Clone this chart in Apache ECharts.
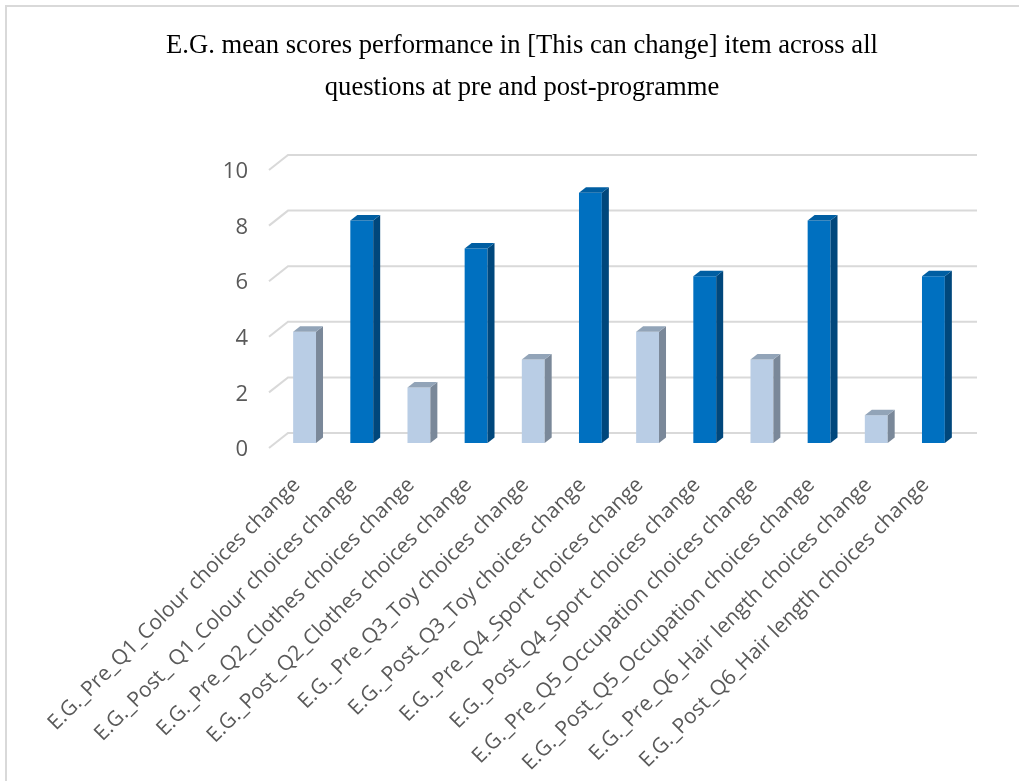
<!DOCTYPE html>
<html>
<head>
<meta charset="utf-8">
<title>E.G. mean scores – This can change</title>
<script src="https://cdn.jsdelivr.net/npm/echarts@6/dist/echarts.min.js"></script>
<style>
  html, body { margin: 0; padding: 0; background: #ffffff; }
  #chart { width: 1019px; height: 781px; }
</style>
</head>
<body>
<div id="chart"></div>
<script>
// Question items, pre and post programme, in display order
const categories = [
  'E.G._Pre_Q1_Colour choices change',
  'E.G._Post_ Q1_Colour choices change',
  'E.G._Pre_Q2_Clothes choices change',
  'E.G._Post_Q2_Clothes choices change',
  'E.G._Pre_Q3_Toy choices change',
  'E.G._Post_Q3_Toy choices change',
  'E.G._Pre_Q4_Sport choices change',
  'E.G._Post_Q4_Sport choices change',
  'E.G._Pre_Q5_Occupation choices change',
  'E.G._Post_Q5_Occupation choices change',
  'E.G._Pre_Q6_Hair length choices change',
  'E.G._Post_Q6_Hair length choices change'
];
// Mean scores per question
const preScores  = [4, 2, 3, 4, 3, 1];
const postScores = [8, 7, 9, 6, 8, 6];
// Value axis ticks
const yTicks = [0, 2, 4, 6, 8, 10];

const titleText = 'E.G. mean scores performance in [This can change] item across all\nquestions at pre and post-programme';

// Face colours for the two phases: front, side, top
const palette = {
  pre:  { front: '#B9CDE5', side: '#7A8899', top: '#92A4B8' },
  post: { front: '#0070C0', side: '#00477C', top: '#005EA2' }
};

// Interleave pre/post into one series: [categoryIndex, value, phase]
const barData = [];
preScores.forEach(function (v, i) {
  barData.push([2 * i, v, 'pre']);
  barData.push([2 * i + 1, postScores[i], 'post']);
});

const DEPTH_DX = 7;
const DEPTH_DY = 5.5;

function renderBar(params, api) {
  const idx = api.value(0);
  const val = api.value(1);
  const phase = barData[params.dataIndex][2];
  const col = palette[phase];
  const band = api.size([1, 0])[0];
  const w = band * 0.40;
  const top = api.coord([idx, val]);
  const bot = api.coord([idx, 0]);
  const x0 = top[0] - w / 2;
  const x1 = x0 + w;
  const yT = top[1];
  const yB = bot[1];
  return {
    type: 'group',
    children: [
      {
        type: 'rect',
        shape: { x: x0, y: yT, width: w, height: yB - yT },
        style: { fill: col.front }
      },
      {
        type: 'polygon',
        shape: { points: [[x1, yT], [x1 + DEPTH_DX, yT - DEPTH_DY], [x1 + DEPTH_DX, yB - DEPTH_DY], [x1, yB]] },
        style: { fill: col.side }
      },
      {
        type: 'polygon',
        shape: { points: [[x0, yT], [x0 + DEPTH_DX, yT - DEPTH_DY], [x1 + DEPTH_DX, yT - DEPTH_DY], [x1, yT]] },
        style: { fill: col.top }
      }
    ]
  };
}

// Gridlines drawn as floor edge + back wall line
function renderGrid(params, api) {
  const v = api.value(0);
  const cs = params.coordSys;
  const y = api.coord([0, v])[1];
  const left = cs.x;
  const right = cs.x + cs.width;
  return {
    type: 'polyline',
    shape: { points: [[left - 7, y + 5], [left + 12, y - 10], [right + 15, y - 10]] },
    style: { stroke: '#D9D9D9', lineWidth: 2, fill: null }
  };
}

const chart = echarts.init(document.getElementById('chart'), null, { renderer: 'canvas' });

chart.setOption({
  backgroundColor: '#ffffff',
  animation: false,
  title: {
    text: titleText,
    left: 517,
    top: 20,
    textAlign: 'center',
    textStyle: {
      fontFamily: 'Liberation Serif',
      fontSize: 26.6,
      fontWeight: 'normal',
      color: '#000000',
      lineHeight: 42
    }
  },
  graphic: [
    {
      type: 'rect',
      shape: { x: 6, y: 6, width: 1100, height: 1000 },
      style: { fill: null, stroke: '#D9D9D9', lineWidth: 2 },
      silent: true
    }
  ],
  grid: {
    left: 276,
    top: 165,
    width: 686,
    height: 278
  },
  xAxis: {
    type: 'category',
    data: categories,
    axisLine: { show: false },
    axisTick: { show: false },
    axisLabel: {
      interval: 0,
      rotate: 45,
      margin: 31,
      padding: [0, 11, 0, 0],
      fontFamily: 'Open Sans',
      fontSize: 21,
      color: '#595959'
    }
  },
  yAxis: {
    type: 'value',
    min: 0,
    max: 10,
    interval: 2,
    axisLine: { show: false },
    axisTick: { show: false },
    splitLine: { show: false },
    axisLabel: {
      margin: 28,
      verticalAlign: 'top',
      lineHeight: 14,
      fontFamily: 'Open Sans',
      fontSize: 22,
      color: '#595959'
    }
  },
  series: [
    {
      type: 'custom',
      z: 1,
      silent: true,
      renderItem: renderGrid,
      data: yTicks.map(function (t) { return [t]; }),
      encode: { y: 0 }
    },
    {
      type: 'custom',
      z: 5,
      renderItem: renderBar,
      data: barData.map(function (d) { return [d[0], d[1]]; }),
      encode: { x: 0, y: 1 }
    }
  ]
});
</script>
</body>
</html>
